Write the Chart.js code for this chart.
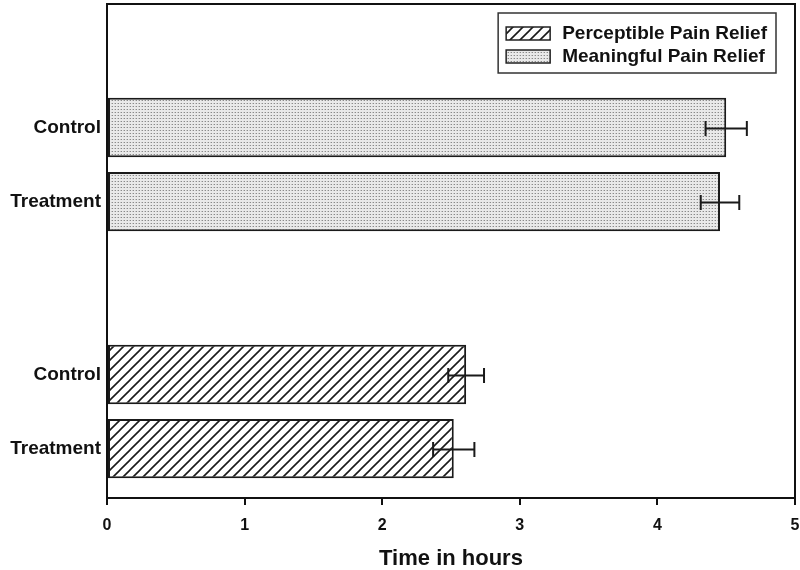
<!DOCTYPE html>
<html>
<head>
<meta charset="utf-8">
<style>
  html, body { margin: 0; padding: 0; background: #fff; }
  #wrap { width: 800px; height: 570px; }
</style>
<script src="https://cdn.jsdelivr.net/npm/chart.js@4"></script>
</head>
<body>
<div id="wrap"><canvas id="chart" width="800" height="570"></canvas></div>
<script>
  // ---- data ----
  const seriesNames = ["Perceptible Pain Relief", "Meaningful Pain Relief"];
  const rowLabels = ["Control", "Treatment", "Control", "Treatment"];
  // row slots on the y scale (0 at top, 10 at bottom)
  const rowSlots = [2.5, 4, 7.5, 9];
  const perceptibleMeans = [2.61, 2.52];
  const perceptibleErrors = [0.13, 0.15];
  const meaningfulMeans = [4.50, 4.455];
  const meaningfulErrors = [0.15, 0.14];
  const xTicks = [0, 1, 2, 3, 4, 5];

  const FONT = "'Liberation Sans', Arial, sans-serif";
  const INK = "#111";

  function hatchPattern() {
    const c = document.createElement("canvas");
    c.width = 10; c.height = 10;
    const g = c.getContext("2d");
    g.fillStyle = "#fff";
    g.fillRect(0, 0, 10, 10);
    g.strokeStyle = "#1a1a1a";
    g.lineWidth = 1.6;
    g.beginPath();
    g.moveTo(-5, 5); g.lineTo(5, -5);
    g.moveTo(0, 10); g.lineTo(10, 0);
    g.moveTo(5, 15); g.lineTo(15, 5);
    g.stroke();
    return g.createPattern(c, "repeat");
  }

  function dotPattern() {
    const c = document.createElement("canvas");
    c.width = 3; c.height = 3;
    const g = c.getContext("2d");
    g.fillStyle = "#e9e9e9";
    g.fillRect(0, 0, 3, 3);
    g.fillStyle = "#8a8a8a";
    g.fillRect(1, 1, 1, 1);
    g.fillStyle = "#c4c4c4";
    g.fillRect(0, 1, 1, 1);
    return g.createPattern(c, "repeat");
  }

  const perceptibleData = perceptibleMeans.map((v, i) => ({ x: v, y: rowSlots[2 + i] }));
  const meaningfulData = meaningfulMeans.map((v, i) => ({ x: v, y: rowSlots[i] }));
  const errorsBySet = [perceptibleErrors, meaningfulErrors];

  // error bars: symmetric whiskers with caps
  const errorBars = {
    id: "errorBars",
    afterDatasetsDraw(chart) {
      const { ctx } = chart;
      const xs = chart.scales.x;
      ctx.save();
      ctx.strokeStyle = "#1a1a1a";
      ctx.lineWidth = 2;
      chart.data.datasets.forEach((ds, di) => {
        const meta = chart.getDatasetMeta(di);
        meta.data.forEach((bar, i) => {
          const v = ds.data[i].x, e = errorsBySet[di][i];
          const x0 = xs.getPixelForValue(v - e);
          const x1 = xs.getPixelForValue(v + e);
          const y = Math.round(bar.y) + 0.5;
          ctx.beginPath();
          ctx.moveTo(x0, y); ctx.lineTo(x1, y);
          ctx.moveTo(x0, y - 7.5); ctx.lineTo(x0, y + 7.5);
          ctx.moveTo(x1, y - 7.5); ctx.lineTo(x1, y + 7.5);
          ctx.stroke();
        });
      });
      ctx.restore();
    }
  };

  // frame round the plot area
  const frame = {
    id: "frame",
    afterDatasetsDraw(chart) {
      const { ctx, chartArea: a } = chart;
      ctx.save();
      ctx.strokeStyle = INK;
      ctx.lineWidth = 2;
      ctx.strokeRect(a.left, a.top, a.right - a.left, a.bottom - a.top);
      ctx.restore();
    }
  };

  // boxed legend in the top right corner of the plot
  const boxLegend = {
    id: "boxLegend",
    afterDraw(chart) {
      const { ctx, chartArea: a } = chart;
      const sets = chart.data.datasets;
      ctx.save();
      ctx.font = "bold 19px " + FONT;
      const textW = Math.max(...sets.map(d => ctx.measureText(d.label).width));
      const w = 8 + 44 + 12 + textW + 9;
      const right = a.right - 19, left = right - w, top = a.top + 9, h = 60;
      ctx.strokeStyle = "#333";
      ctx.lineWidth = 1.5;
      ctx.strokeRect(left, top, w, h);
      sets.forEach((d, i) => {
        const sy = top + 14 + i * 23;
        ctx.fillStyle = d.backgroundColor;
        ctx.fillRect(left + 8, sy, 44, 13);
        ctx.strokeStyle = "#222";
        ctx.lineWidth = 1.5;
        ctx.strokeRect(left + 8, sy, 44, 13);
        ctx.fillStyle = INK;
        ctx.textBaseline = "middle";
        ctx.textAlign = "left";
        ctx.fillText(d.label, left + 64, sy + 7);
      });
      ctx.restore();
    }
  };

  new Chart(document.getElementById("chart"), {
    type: "bar",
    data: {
      datasets: [
        {
          label: seriesNames[0],
          data: perceptibleData,
          backgroundColor: hatchPattern(),
          borderColor: "#1a1a1a",
          borderWidth: 2,
          borderSkipped: false,
          grouped: false,
          categoryPercentage: 0.8,
          barPercentage: 1
        },
        {
          label: seriesNames[1],
          data: meaningfulData,
          backgroundColor: dotPattern(),
          borderColor: "#1a1a1a",
          borderWidth: 2,
          borderSkipped: false,
          grouped: false,
          categoryPercentage: 0.8,
          barPercentage: 1
        }
      ]
    },
    options: {
      indexAxis: "y",
      responsive: false,
      animation: false,
      devicePixelRatio: 1,
      layout: { padding: { left: 0, top: 4, right: 5, bottom: 0 } },
      plugins: {
        legend: { display: false },
        tooltip: { enabled: false }
      },
      scales: {
        x: {
          type: "linear",
          min: 0,
          max: 5,
          afterBuildTicks: s => { s.ticks = xTicks.map(v => ({ value: v })); },
          afterFit: s => { s.height = 72; s.paddingLeft = 0; s.paddingRight = 0; },
          border: { display: false },
          grid: {
            display: true,
            drawOnChartArea: false,
            drawTicks: true,
            tickLength: 7,
            color: INK,
            lineWidth: 2
          },
          ticks: {
            color: INK,
            padding: 11,
            font: { family: FONT, size: 16, weight: "bold" }
          },
          title: {
            display: true,
            text: "Time in hours",
            color: INK,
            padding: { top: 12, bottom: 0 },
            font: { family: FONT, size: 22, weight: "bold", lineHeight: 1 }
          }
        },
        y: {
          type: "linear",
          min: 0,
          max: 10,
          reverse: true,
          offset: false,
          afterBuildTicks: s => { s.ticks = rowSlots.map(v => ({ value: v })); },
          afterFit: s => { s.width = 107; s.paddingTop = 0; s.paddingBottom = 0; },
          border: { display: false },
          grid: { display: false, drawTicks: false, offset: false },
          ticks: {
            color: INK,
            padding: 6,
            font: { family: FONT, size: 19, weight: "bold" },
            callback: (value, index) => rowLabels[index]
          }
        }
      }
    },
    plugins: [errorBars, frame, boxLegend]
  });
</script>
</body>
</html>
